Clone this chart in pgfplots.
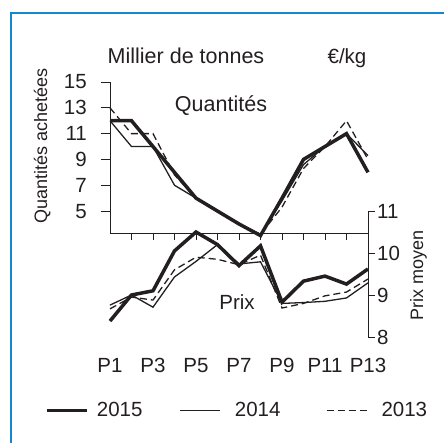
\documentclass[border=0pt]{standalone}
\usepackage{pgfplots}
\pgfplotsset{compat=1.18}
\usepackage{fontspec}
\setmainfont{Liberation Sans}
\definecolor{frameblue}{RGB}{20,135,210}
\definecolor{txt}{RGB}{35,31,32}
\newcommand\fA{\fontsize{20.5bp}{24bp}\selectfont}
\newcommand\fT{\fontsize{21.5bp}{25bp}\selectfont}
\newcommand\fB{\fontsize{18bp}{22bp}\selectfont}

\pgfplotstableread{
x q15 q14 q13 p15 p14 p13
1 12 12 13 8.38 8.76 8.67
2 12 10 11 9.00 9.00 8.95
3 10 10 11 9.10 8.71 8.88
4 8 7 7.8 10.05 9.43 9.60
5 6 6 6 10.50 9.80 9.90
6 5 5 5 10.20 10.20 9.85
7 4 4 4 9.70 9.74 9.72
8 3.1 3.2 3.2 10.17 9.79 9.95
9 6 5.8 5.3 8.83 8.80 8.69
10 9 8.6 8.3 9.33 8.82 8.80
11 10 10 10 9.45 8.85 8.98
12 11 11 12 9.26 8.93 9.07
13 8 9.3 9.0 9.62 9.29 9.38
}\data

\tikzset{lbl/.style={font=\fA, text=txt, inner sep=0pt}}

\begin{document}
\begin{tikzpicture}
\useasboundingbox (0,0) rectangle (444bp,-443bp);
\draw[frameblue, line width=1.5bp] (11bp,-443bp) -- (11bp,-13bp) -- (444bp,-13bp);

\begin{axis}[
  at={(110bp,-233bp)}, anchor=south west, scale only axis,
  width=258bp, height=151bp,
  xmin=1, xmax=13, ymin=3.3, ymax=15,
  axis x line*=bottom, axis y line*=left,
  axis line style={line width=0.8bp, txt},
  tick align=outside,
  xtick={2,...,12}, xticklabels={},
  ytick={5,7,9,11,13,15}, yticklabels={},
  x tick style={line width=0.8bp, txt, /pgfplots/major tick length=7bp},
  y tick style={line width=0.8bp, txt, /pgfplots/major tick length=9bp},
  clip=false,
]
\addplot[txt, line width=3.5bp] table[x=x,y=q15]{\data};
\addplot[txt, line width=1.3bp] table[x=x,y=q14]{\data};
\addplot[txt, line width=1.3bp, dash pattern=on 7bp off 4bp] table[x=x,y=q13]{\data};
\node[lbl, anchor=east, xshift=-23bp] at (axis cs:1,15) {15};
\node[lbl, anchor=east, xshift=-23bp] at (axis cs:1,13) {13};
\node[lbl, anchor=east, xshift=-23bp] at (axis cs:1,11) {11};
\node[lbl, anchor=east, xshift=-23bp] at (axis cs:1,9) {9};
\node[lbl, anchor=east, xshift=-23bp] at (axis cs:1,7) {7};
\node[lbl, anchor=east, xshift=-23bp] at (axis cs:1,5) {5};
\end{axis}

\begin{axis}[
  at={(110bp,-337bp)}, anchor=south west, scale only axis,
  width=258bp, height=126bp,
  xmin=1, xmax=13, ymin=8, ymax=11,
  axis x line=none, axis y line*=right,
  y axis line style={line width=0.8bp, txt},
  tick align=outside,
  ytick={8,9,10,11}, yticklabels={},
  y tick style={line width=0.8bp, txt, /pgfplots/major tick length=7bp},
  clip=false,
  legend style={at={(-0.252,-0.583)}, anchor=west, draw=none, fill=none,
    inner sep=0pt, column sep=0pt, font=\fA, text=txt, legend columns=3,
    nodes={inner sep=0pt}},
]
\addplot[txt, line width=3.5bp,
  legend image code/.code={\path[draw=none,fill=none] (0bp,0bp) -- (50bp,0bp); \draw[txt, line width=3.5bp, solid] (0bp,0bp) -- (40bp,0bp);}]
  table[x=x,y=p15]{\data};
\addlegendentry{2015}
\addplot[txt, line width=1.3bp,
  legend image code/.code={\path[draw=none,fill=none] (0bp,0bp) -- (92.4bp,0bp); \draw[txt, line width=1.3bp, solid] (37.4bp,0bp) -- (77.4bp,0bp);}]
  table[x=x,y=p14]{\data};
\addlegendentry{2014}
\addplot[txt, line width=1.3bp, dash pattern=on 7bp off 4bp,
  legend image code/.code={\path[draw=none,fill=none] (0bp,0bp) -- (101bp,0bp); \draw[txt, line width=1.3bp, dash pattern=on 7bp off 4bp] (46bp,0bp) -- (86bp,0bp);}]
  table[x=x,y=p13]{\data};
\addlegendentry{2013}
\node[lbl, anchor=west, xshift=9bp] at (axis cs:13,11) {11};
\node[lbl, anchor=west, xshift=9bp] at (axis cs:13,10) {10};
\node[lbl, anchor=west, xshift=9bp] at (axis cs:13,9) {9};
\node[lbl, anchor=west, xshift=9bp] at (axis cs:13,8) {8};
\node[lbl, anchor=base, yshift=-35bp] at (axis cs:1,8) {P1};
\node[lbl, anchor=base, yshift=-35bp] at (axis cs:3,8) {P3};
\node[lbl, anchor=base, yshift=-35bp] at (axis cs:5,8) {P5};
\node[lbl, anchor=base, yshift=-35bp] at (axis cs:7,8) {P7};
\node[lbl, anchor=base, yshift=-35bp] at (axis cs:9,8) {P9};
\node[lbl, anchor=base, yshift=-35bp] at (axis cs:11,8) {P11};
\node[lbl, anchor=base, yshift=-35bp] at (axis cs:13,8) {P13};
\end{axis}

\node[font=\fT, text=txt, anchor=base] at (186bp,-63bp) {Millier de tonnes};
\node[font=\fA, text=txt, anchor=base] at (347bp,-63bp) {€/kg};
\node[font=\fT, text=txt, anchor=base] at (221bp,-111bp) {Quantités};
\node[font=\fA, text=txt, anchor=base] at (237bp,-309bp) {Prix};
\node[font=\fB, text=txt, rotate=90, anchor=base] at (47bp,-146bp) {Quantités achetées};
\node[font=\fB, text=txt, rotate=90, anchor=base] at (423bp,-275bp) {Prix moyen};
\end{tikzpicture}
\end{document}
